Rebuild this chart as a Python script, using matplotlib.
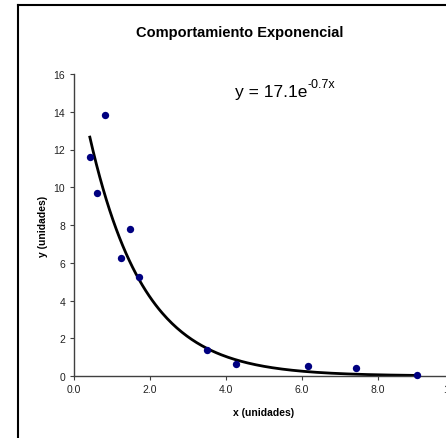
import numpy as np
import matplotlib
matplotlib.use("Agg")
import matplotlib.pyplot as plt
from matplotlib.lines import Line2D

plt.rcParams['font.family'] = ['Liberation Sans', 'DejaVu Sans']

# datos medidos
x_vals = [0.43, 0.61, 0.84, 1.26, 1.49, 1.72, 3.51, 4.27, 6.18, 7.44, 9.04]
y_vals = [11.62, 9.68, 13.84, 6.27, 7.79, 5.25, 1.38, 0.65, 0.53, 0.44, 0.07]

# ajuste exponencial y = a * e^(b x)
fit_a = 17.1
fit_b = -0.7

x_ticks = [0, 2, 4, 6, 8, 10]
y_ticks = [0, 2, 4, 6, 8, 10, 12, 14, 16]

W, H = 446, 439
fig = plt.figure(figsize=(W / 100, H / 100), dpi=100)

# axes: left spine at px 73.5, bottom at px 377, top (16) at px 75, x=10 at px 453.5
ax = fig.add_axes([73.5 / W, 1 - 377 / H, 380 / W, (377 - 75) / H])
ax.set_xlim(0, 10)
ax.set_ylim(0, 16)

xs = np.linspace(min(x_vals), max(x_vals), 200)
ax.plot(xs, fit_a * np.exp(fit_b * xs), color='black', lw=2, zorder=2, clip_on=False)
ax.scatter(x_vals, y_vals, s=28, color='#000080', zorder=3, clip_on=False, linewidths=0)

for side in ['top', 'right']:
    ax.spines[side].set_visible(False)
for side in ['left', 'bottom']:
    ax.spines[side].set_color('#404040')
    ax.spines[side].set_linewidth(1.0)

ax.set_xticks(x_ticks)
ax.set_xticklabels([f'{v:.1f}' for v in x_ticks])
ax.set_yticks(y_ticks)
ax.set_yticklabels([str(v) for v in y_ticks])
ax.tick_params(axis='both', direction='out', length=3, width=0.8, color='#404040',
               labelcolor='#222222', labelsize=7.5, pad=3)

ax.set_xlabel('x (unidades)', fontsize=7.5, fontweight='bold', labelpad=9)
ax.set_ylabel('y (unidades)', fontsize=7.5, fontweight='bold', labelpad=4)

fig.text(240 / W, 1 - 33 / H, 'Comportamiento Exponencial', ha='center', va='center',
         fontsize=10.5, fontweight='bold')

# ecuación de la tendencia, con exponente como texto elevado
eq = fig.text(235 / W, 1 - 92 / H, f'y = {fit_a:.1f}e', ha='left', va='center',
              fontsize=12.5)
fig.add_artist(plt.Annotation(f'{fit_b:.1f}x', xy=(1, 0.55), xycoords=eq,
                              ha='left', va='bottom', fontsize=9))

# marco del gráfico (recortado a la derecha y abajo)
fig.add_artist(Line2D([17.5 / W, 17.5 / W], [-0.05, 1 - 6 / H], transform=fig.transFigure,
                      color='black', lw=1.5))
fig.add_artist(Line2D([17.5 / W, 1.05], [1 - 6 / H, 1 - 6 / H], transform=fig.transFigure,
                      color='black', lw=1.5))

fig.savefig('out.png', dpi=100)
